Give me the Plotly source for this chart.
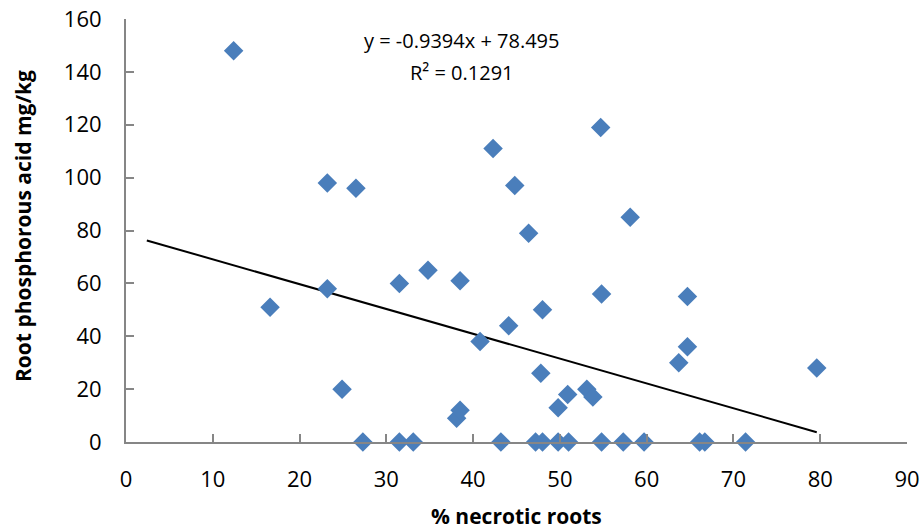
import plotly.graph_objects as go

necrotic_pct = [12.4, 16.6, 23.2, 23.2, 24.9, 26.5, 27.3, 31.5, 31.5, 33.1, 34.8,
                38.1, 38.5, 38.5, 40.8, 42.3, 43.2, 44.1, 44.8, 46.4, 47.2, 47.8,
                48.0, 48.0, 49.8, 49.8, 50.9, 51.0, 53.1, 53.8, 54.7, 54.8, 54.8,
                58.1, 57.3, 59.7, 63.7, 64.7, 64.7, 66.1, 66.7, 71.4, 79.6]
phosphorous_acid = [148, 51, 98, 58, 20, 96, 0, 60, 0, 0, 65,
                    9, 12, 61, 38, 111, 0, 44, 97, 79, 0, 26,
                    50, 0, 13, 0, 18, 0, 20, 17, 119, 56, 0,
                    85, 0, 0, 30, 55, 36, 0, 0, 0, 28]

slope = -0.9394
intercept = 78.495
r_squared = 0.1291
backward_forecast = 10

x_ticks = [0, 10, 20, 30, 40, 50, 60, 70, 80, 90]
y_ticks = [0, 20, 40, 60, 80, 100, 120, 140, 160]

x_title = "% necrotic roots"
y_title = "Root phosphorous acid mg/kg"

trend_x = [min(necrotic_pct) - backward_forecast, max(necrotic_pct)]
trend_y = [slope * v + intercept for v in trend_x]

fig = go.Figure()
fig.add_trace(go.Scatter(x=trend_x, y=trend_y, mode="lines",
                         line=dict(color="black", width=2), showlegend=False,
                         hoverinfo="skip"))
fig.add_trace(go.Scatter(x=necrotic_pct, y=phosphorous_acid, mode="markers",
                         marker=dict(symbol="diamond", size=15, color="#4A7EBB",
                                     line=dict(width=0)),
                         cliponaxis=False, showlegend=False))

font_family = "'Open Sans', sans-serif"
axis_common = dict(showgrid=False, zeroline=False, showline=True,
                   linecolor="#868686", linewidth=2, ticks="inside",
                   ticklen=8, tickwidth=2, tickcolor="#868686",
                   automargin=False, ticklabeloverflow="allow",
                   tickfont=dict(family=font_family, size=22, color="black"))

fig.update_layout(
    width=920, height=531,
    margin=dict(l=126, r=13, t=19, b=89),
    paper_bgcolor="white", plot_bgcolor="white",
    xaxis=dict(range=[0, 90], tickvals=x_ticks, ticklabelstandoff=17, **axis_common),
    yaxis=dict(range=[0, 160], tickvals=y_ticks, ticklabelstandoff=18, **axis_common),
    annotations=[
        dict(text=f"y = {slope}x + {intercept}",
             xref="paper", yref="paper", x=0.43, y=0.948, yanchor="middle",
             showarrow=False,
             font=dict(family=font_family, size=20, color="black")),
        dict(text=f"R² = {r_squared}",
             xref="paper", yref="paper", x=0.43, y=0.8747, yanchor="middle",
             showarrow=False,
             font=dict(family=font_family, size=20, color="black")),
        dict(text=f"<b>{x_title}</b>", xref="paper", yref="paper",
             x=0.5, y=-0.175, yanchor="middle", showarrow=False,
             font=dict(family=font_family, size=21, color="black")),
        dict(text=f"<b>{y_title}</b>", xref="paper", yref="paper",
             x=-0.1319, y=0.5106, xanchor="center", yanchor="middle", textangle=-90,
             showarrow=False,
             font=dict(family=font_family, size=21, color="black")),
    ],
)

# remove the default 8px page margin so the figure fills the window exactly
fig.write_html("out.html",
               config={"displayModeBar": False},
               post_script="document.body.style.margin='0';document.body.style.overflow='hidden';")
